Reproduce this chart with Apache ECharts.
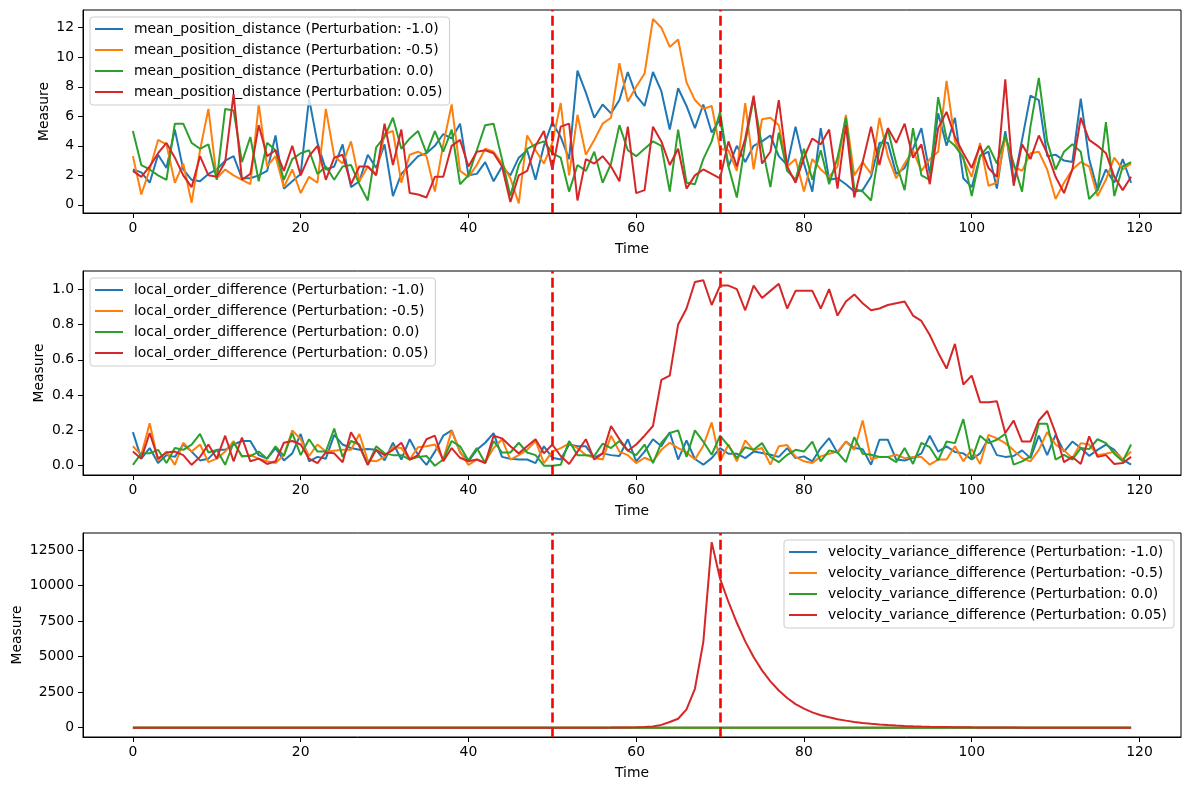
<!DOCTYPE html>
<html>
<head>
<meta charset="utf-8">
<script src="https://cdn.jsdelivr.net/npm/echarts@6/dist/echarts.min.js"></script>
<style>
  html, body { margin: 0; padding: 0; background: #fff; }
  #chart { width: 1189px; height: 790px; }
</style>
</head>
<body>
<div id="chart"></div>
<script>
// time steps 0..119
var time = [];
for (var i = 0; i < 120; i++) time.push(i);

var xTicks = [0, 20, 40, 60, 80, 100, 120];
var yTicks1 = [0, 2, 4, 6, 8, 10, 12];
var yTicks2 = [0, 0.2, 0.4, 0.6, 0.8, 1.0];
var yTicks3 = [0, 2500, 5000, 7500, 10000, 12500];
var perturbations = ['-1.0', '-0.5', '0.0', '0.05'];
var perturbStart = 50, perturbEnd = 70;

// mean_position_distance
var mpdNeg10 = [
	2.4, 2.2, 1.5, 3.4, 2.5, 5.1, 2.4, 1.7, 1.6, 2.1,
	2.4, 3.0, 3.3, 1.8, 1.8, 2.0, 2.3, 4.7, 1.1, 1.6,
	2.1, 7.2, 4.2, 2.4, 2.6, 4.1, 1.2, 1.6, 3.4, 2.5,
	4.1, 0.6, 2.1, 2.7, 3.3, 3.5, 4.0, 4.8, 4.5, 5.5,
	2.0, 2.1, 2.9, 1.6, 2.6, 2.0, 3.2, 3.7, 1.7, 4.0,
	5.6, 4.6, 3.1, 9.1, 7.6, 5.9, 6.8, 6.2, 7.1, 9.0,
	7.4, 6.7, 9.0, 7.7, 5.1, 7.9, 6.7, 5.2, 6.8, 4.9,
	5.8, 2.6, 4.0, 2.9, 4.0, 4.3, 4.7, 3.3, 2.7, 5.3,
	2.8, 0.9, 5.2, 1.7, 1.8, 1.4, 0.9, 1.0, 1.9, 4.2,
	4.2, 2.1, 2.5, 3.8, 5.2, 2.1, 6.2, 4.0, 5.9, 1.8,
	1.2, 3.3, 3.6, 1.1, 5.0, 1.5, 4.4, 7.4, 7.1, 3.3,
	3.4, 3.0, 2.9, 7.2, 3.1, 1.0, 2.4, 1.5, 3.1, 1.5
];
var mpdNeg05 = [
	3.3, 0.7, 2.4, 4.4, 4.1, 1.5, 2.8, 0.15, 3.7, 6.5,
	1.8, 2.4, 2.0, 1.7, 1.4, 6.8, 2.6, 3.3, 1.2, 2.4,
	0.8, 1.9, 1.5, 6.5, 3.3, 2.8, 4.3, 1.6, 2.6, 2.1,
	4.8, 5.0, 1.5, 3.4, 3.6, 3.3, 0.9, 4.1, 6.8, 2.3,
	1.9, 2.7, 3.8, 3.6, 2.8, 1.8, 0.1, 4.7, 3.7, 2.8,
	4.2, 6.9, 2.0, 6.1, 3.4, 4.4, 5.5, 5.9, 9.6, 7.0,
	8.0, 8.9, 12.6, 12.0, 10.7, 11.2, 8.3, 7.1, 6.5, 6.7,
	3.8, 3.7, 2.3, 6.9, 2.4, 5.8, 5.9, 5.4, 2.6, 3.1,
	0.9, 3.1, 2.4, 1.9, 2.6, 6.1, 2.0, 2.9, 2.1, 5.9,
	3.3, 1.8, 2.8, 3.7, 2.3, 3.1, 3.6, 8.4, 4.3, 3.1,
	1.9, 4.2, 1.3, 1.5, 4.6, 2.6, 2.3, 3.5, 3.6, 2.4,
	0.4, 1.5, 2.4, 2.9, 2.6, 0.6, 1.7, 3.2, 2.4, 2.8
];
var mpd00 = [
	5.0, 2.7, 2.4, 2.0, 1.7, 5.5, 5.5, 4.2, 3.8, 4.1,
	1.7, 6.5, 6.4, 2.9, 4.6, 1.6, 4.2, 3.7, 1.7, 3.1,
	3.5, 3.7, 2.1, 2.6, 1.7, 2.6, 2.7, 1.4, 0.3, 3.9,
	4.6, 5.9, 3.8, 4.5, 5.0, 3.5, 5.0, 3.6, 5.1, 1.4,
	2.0, 3.7, 5.4, 5.5, 3.1, 0.6, 2.7, 3.8, 4.1, 4.3,
	3.5, 3.2, 0.9, 2.7, 2.3, 3.6, 1.5, 2.8, 5.4, 3.7,
	3.3, 3.8, 4.3, 4.0, 0.9, 5.1, 1.5, 1.4, 3.1, 4.3,
	6.3, 2.6, 0.5, 4.2, 7.2, 4.0, 1.2, 4.9, 2.3, 1.7,
	3.8, 1.7, 3.7, 1.4, 3.2, 5.9, 1.1, 0.9, 0.3, 3.8,
	5.1, 2.8, 1.0, 5.2, 2.0, 1.7, 7.3, 4.5, 4.0, 3.2,
	0.6, 3.3, 4.0, 2.8, 4.7, 2.8, 0.9, 5.3, 8.6, 4.3,
	2.4, 3.6, 4.1, 3.6, 0.4, 1.0, 5.6, 0.6, 2.6, 2.9
];
var mpd005 = [
	2.3, 1.9, 2.6, 3.5, 4.2, 3.2, 2.0, 1.2, 3.3, 2.0,
	1.9, 2.9, 7.5, 1.7, 2.1, 5.4, 3.3, 3.7, 2.3, 4.0,
	2.0, 3.3, 4.0, 1.7, 3.2, 3.4, 1.4, 2.6, 2.6, 2.0,
	5.5, 2.7, 5.1, 0.8, 0.7, 0.5, 1.9, 1.9, 4.0, 4.4,
	2.6, 3.6, 3.7, 3.5, 2.6, 0.2, 2.0, 2.3, 4.0, 5.0,
	2.4, 5.3, 5.5, 0.3, 3.1, 2.8, 3.3, 2.6, 1.6, 5.3,
	0.8, 1.0, 5.3, 4.3, 2.7, 3.8, 1.1, 2.0, 2.4, 2.1,
	1.8, 4.3, 2.6, 4.5, 7.4, 2.8, 3.6, 7.1, 2.6, 1.5,
	3.2, 4.5, 4.1, 5.1, 1.1, 5.4, 0.5, 2.9, 5.3, 2.7,
	5.2, 4.2, 5.5, 3.2, 4.1, 1.4, 5.2, 6.3, 4.6, 3.5,
	2.5, 4.0, 2.5, 1.9, 8.5, 1.3, 4.1, 3.1, 4.7, 3.5,
	1.9, 0.8, 2.4, 5.9, 4.4, 4.0, 3.5, 1.9, 1.0, 1.9
];

// local_order_difference
var lodNeg10 = [
	0.19, 0.04, 0.10, 0.015, 0.06, 0.05, 0.12, 0.08, 0.03, 0.04,
	0.09, 0.09, 0.12, 0.14, 0.14, 0.06, 0.04, 0.10, 0.03, 0.07,
	0.18, 0.025, 0.05, 0.04, 0.175, 0.12, 0.10, 0.09, 0.095, 0.09,
	0.03, 0.13, 0.035, 0.15, 0.06, 0.005, 0.08, 0.17, 0.20, 0.075,
	0.025, 0.09, 0.13, 0.185, 0.05, 0.04, 0.035, 0.035, 0.015, 0.11,
	0.045, 0.035, 0.12, 0.11, 0.11, 0.045, 0.07, 0.06, 0.055, 0.15,
	0.025, 0.08, 0.15, 0.11, 0.19, 0.035, 0.143, 0.038, 0.006, 0.043,
	0.10, 0.068, 0.068, 0.043, 0.08, 0.072, 0.062, 0.05, 0.10, 0.043,
	0.053, 0.025, 0.10, 0.156, 0.072, 0.137, 0.10, 0.094, 0.006, 0.147,
	0.147, 0.035, 0.03, 0.045, 0.07, 0.17, 0.08, 0.11, 0.078, 0.07,
	0.035, 0.07, 0.155, 0.06, 0.05, 0.055, 0.087, 0.043, 0.17, 0.06,
	0.175, 0.08, 0.137, 0.10, 0.056, 0.09, 0.12, 0.09, 0.035, 0.006
];
var lodNeg05 = [
	0.11, 0.06, 0.24, 0.03, 0.08, 0.005, 0.13, 0.08, 0.12, 0.02,
	0.04, 0.08, 0.14, 0.05, 0.06, 0.04, 0.025, 0.015, 0.06, 0.20,
	0.15, 0.055, 0.12, 0.08, 0.085, 0.09, 0.09, 0.18, 0.03, 0.025,
	0.05, 0.105, 0.10, 0.035, 0.105, 0.11, 0.12, 0.035, 0.20, 0.08,
	0.005, 0.035, 0.02, 0.10, 0.15, 0.035, 0.06, 0.09, 0.14, 0.015,
	0.08, 0.10, 0.125, 0.10, 0.06, 0.045, 0.035, 0.17, 0.08, 0.06,
	0.015, 0.045, 0.025, 0.09, 0.13, 0.10, 0.075, 0.035, 0.113, 0.245,
	0.025, 0.12, 0.025, 0.143, 0.087, 0.10, 0.006, 0.11, 0.117, 0.05,
	0.025, 0.015, 0.053, 0.068, 0.08, 0.137, 0.09, 0.256, 0.035, 0.05,
	0.05, 0.062, 0.043, 0.05, 0.05, 0.006, 0.035, 0.035, 0.11, 0.025,
	0.094, 0.01, 0.175, 0.155, 0.128, 0.087, 0.043, 0.025, 0.09, 0.19,
	0.12, 0.087, 0.043, 0.128, 0.12, 0.06, 0.068, 0.08, 0.035, 0.08
];
var lod00 = [
	0.005, 0.07, 0.07, 0.09, 0.015, 0.10, 0.09, 0.12, 0.18, 0.075,
	0.09, 0.005, 0.13, 0.055, 0.055, 0.08, 0.04, 0.11, 0.055, 0.185,
	0.06, 0.15, 0.08, 0.08, 0.21, 0.05, 0.14, 0.12, 0.005, 0.11,
	0.07, 0.06, 0.06, 0.035, 0.05, 0.055, 0.0, 0.035, 0.14, 0.11,
	0.03, 0.10, 0.015, 0.14, 0.075, 0.075, 0.13, 0.075, 0.06, 0.0,
	0.0, 0.005, 0.14, 0.06, 0.06, 0.055, 0.125, 0.10, 0.14, 0.085,
	0.06, 0.12, 0.015, 0.13, 0.185, 0.20, 0.05, 0.20, 0.137, 0.062,
	0.17, 0.113, 0.043, 0.105, 0.09, 0.128, 0.05, 0.02, 0.062, 0.09,
	0.08, 0.137, 0.025, 0.087, 0.075, 0.02, 0.162, 0.068, 0.062, 0.05,
	0.05, 0.02, 0.10, 0.01, 0.13, 0.105, 0.03, 0.137, 0.128, 0.264,
	0.035, 0.17, 0.128, 0.147, 0.18, 0.006, 0.025, 0.053, 0.237, 0.237,
	0.035, 0.062, 0.035, 0.10, 0.094, 0.15, 0.128, 0.068, 0.025, 0.12
];
var lod005 = [
	0.08, 0.04, 0.185, 0.04, 0.075, 0.08, 0.06, 0.005, 0.05, 0.12,
	0.04, 0.17, 0.025, 0.16, 0.025, 0.04, 0.01, 0.025, 0.13, 0.14,
	0.12, 0.04, 0.015, 0.075, 0.07, 0.02, 0.19, 0.11, 0.005, 0.09,
	0.06, 0.09, 0.13, 0.035, 0.06, 0.15, 0.17, 0.025, 0.10, 0.045,
	0.025, 0.035, 0.015, 0.17, 0.155, 0.11, 0.07, 0.11, 0.15, 0.07,
	0.12, 0.055, 0.01, 0.08, 0.15, 0.035, 0.07, 0.225, 0.15, 0.085,
	0.12, 0.17, 0.225, 0.486, 0.51, 0.80, 0.89, 1.04, 1.05, 0.91,
	1.02, 1.02, 1.0, 0.88, 1.02, 0.95, 0.99, 1.03, 0.89, 0.99,
	0.99, 0.99, 0.89, 1.0, 0.85, 0.93, 0.97, 0.92, 0.88, 0.89,
	0.91, 0.92, 0.93, 0.85, 0.82, 0.74, 0.64, 0.55, 0.69, 0.46,
	0.51, 0.36, 0.36, 0.365, 0.185, 0.256, 0.137, 0.137, 0.256, 0.31,
	0.185, 0.02, 0.05, 0.01, 0.166, 0.05, 0.06, 0.01, 0.015, 0.05
];

// velocity_variance_difference
var vvdNeg10 = [
	0, 0, 0, 0, 0, 0, 0, 0, 0, 0,  0, 0, 0, 0, 0, 0, 0, 0, 0, 0,
	0, 0, 0, 0, 0, 0, 0, 0, 0, 0,  0, 0, 0, 0, 0, 0, 0, 0, 0, 0,
	0, 0, 0, 0, 0, 0, 0, 0, 0, 0,  0, 0, 0, 0, 0, 0, 0, 0, 0, 0,
	0, 0, 0, 0, 0, 0, 0, 0, 0, 0,  0, 0, 0, 0, 0, 0, 0, 0, 0, 0,
	0, 0, 0, 0, 0, 0, 0, 0, 0, 0,  0, 0, 0, 0, 0, 0, 0, 0, 0, 0,
	0, 0, 0, 0, 0, 0, 0, 0, 0, 0,  0, 0, 0, 0, 0, 0, 0, 0, 0, 0
];
var vvdNeg05 = [
	0, 0, 0, 0, 0, 0, 0, 0, 0, 0,  0, 0, 0, 0, 0, 0, 0, 0, 0, 0,
	0, 0, 0, 0, 0, 0, 0, 0, 0, 0,  0, 0, 0, 0, 0, 0, 0, 0, 0, 0,
	0, 0, 0, 0, 0, 0, 0, 0, 0, 0,  0, 0, 0, 0, 0, 0, 0, 0, 0, 0,
	0, 0, 0, 0, 0, 0, 0, 0, 0, 0,  0, 0, 0, 0, 0, 0, 0, 0, 0, 0,
	0, 0, 0, 0, 0, 0, 0, 0, 0, 0,  0, 0, 0, 0, 0, 0, 0, 0, 0, 0,
	0, 0, 0, 0, 0, 0, 0, 0, 0, 0,  0, 0, 0, 0, 0, 0, 0, 0, 0, 0
];
var vvd00 = [
	0, 0, 0, 0, 0, 0, 0, 0, 0, 0,  0, 0, 0, 0, 0, 0, 0, 0, 0, 0,
	0, 0, 0, 0, 0, 0, 0, 0, 0, 0,  0, 0, 0, 0, 0, 0, 0, 0, 0, 0,
	0, 0, 0, 0, 0, 0, 0, 0, 0, 0,  0, 0, 0, 0, 0, 0, 0, 0, 0, 0,
	0, 0, 0, 0, 0, 0, 0, 0, 0, 0,  0, 0, 0, 0, 0, 0, 0, 0, 0, 0,
	0, 0, 0, 0, 0, 0, 0, 0, 0, 0,  0, 0, 0, 0, 0, 0, 0, 0, 0, 0,
	0, 0, 0, 0, 0, 0, 0, 0, 0, 0,  0, 0, 0, 0, 0, 0, 0, 0, 0, 0
];
var vvd005 = [
	0, 0, 0, 0, 0, 0, 0, 0, 0, 0,
	0, 0, 0, 0, 0, 0, 0, 0, 0, 0,
	0, 0, 0, 0, 0, 0, 0, 0, 0, 0,
	0, 0, 0, 0, 0, 0, 0, 0, 0, 0,
	0, 0, 0, 0, 0, 0, 0, 0, 0, 0,
	0, 0, 1, 2, 3, 5, 7, 10, 14, 19,
	25, 50, 90, 200, 400, 630, 1290, 2740, 6020, 13050,
	10480, 8840, 7380, 6070, 4970, 4030, 3260, 2620, 2090, 1660,
	1340, 1080, 880, 730, 600, 500, 410, 340, 280, 230,
	190, 155, 128, 105, 86, 70, 57, 47, 38, 31,
	25, 20, 16, 13, 10, 8, 6.5, 5, 4, 3.2,
	2.5, 2, 1.6, 1.3, 1, 0.8, 0.6, 0.5, 0.4, 0.3
];

var colors = ['#1f77b4', '#ff7f0e', '#2ca02c', '#d62728'];
var FONT = 'DejaVu Sans';
var FS = 13.9;

function pairs(vals) {
	var out = [];
	for (var i = 0; i < vals.length; i++) out.push([time[i], vals[i]]);
	return out;
}

function makeXAxis(gi) {
	return {
		type: 'value', gridIndex: gi, min: -5.95, max: 124.95,
		name: 'Time', nameLocation: 'middle', nameGap: 29, nameMoveOverlap: false,
		nameTextStyle: { color: '#000', fontSize: FS, fontFamily: FONT },
		axisLine: { show: true, onZero: false, lineStyle: { color: '#000', width: 1 } },
		axisTick: { show: true, length: 5, customValues: xTicks, lineStyle: { color: '#000', width: 1 } },
		axisLabel: { customValues: xTicks, margin: 8, color: '#000', fontSize: FS, fontFamily: FONT },
		splitLine: { show: false }
	};
}

function makeYAxis(gi, min, max, ticks, gap, fmt) {
	return {
		type: 'value', gridIndex: gi, min: min, max: max,
		name: 'Measure', nameLocation: 'middle', nameGap: gap, nameMoveOverlap: false,
		nameTextStyle: { color: '#000', fontSize: FS, fontFamily: FONT },
		axisLine: { show: true, onZero: false, lineStyle: { color: '#000', width: 1 } },
		axisTick: { show: true, length: 5, customValues: ticks, lineStyle: { color: '#000', width: 1 } },
		axisLabel: { customValues: ticks, margin: 9, color: '#000', fontSize: FS, fontFamily: FONT, formatter: fmt },
		splitLine: { show: false }
	};
}

function makeSeries(gi, metric, arrays) {
	var list = [];
	for (var k = 0; k < arrays.length; k++) {
		var s = {
			name: metric + ' (Perturbation: ' + perturbations[k] + ')',
			type: 'line', xAxisIndex: gi, yAxisIndex: gi,
			data: pairs(arrays[k]),
			symbol: 'none', smooth: false,
			lineStyle: { color: colors[k], width: 2 },
			itemStyle: { color: colors[k] },
			z: 2 + k
		};
		if (k === arrays.length - 1) {
			s.markLine = {
				silent: true, symbol: 'none', animation: false,
				label: { show: false },
				lineStyle: { color: '#ff0000', width: 2.6, type: [10, 4.4], opacity: 1 },
				data: [{ xAxis: perturbStart }, { xAxis: perturbEnd }]
			};
		}
		list.push(s);
	}
	return list;
}

function legendNames(metric) {
	return perturbations.map(function(p) { return metric + ' (Perturbation: ' + p + ')'; });
}

function makeLegend(metric, pos) {
	var lg = {
		data: legendNames(metric),
		orient: 'vertical',
		icon: 'rect',
		itemWidth: 28, itemHeight: 2, itemGap: 7,
		padding: [5, 7, 6, 5],
		backgroundColor: 'rgba(255,255,255,0.8)',
		borderColor: '#cccccc', borderWidth: 1, borderRadius: 3,
		textStyle: { color: '#000', fontSize: FS, fontFamily: FONT, lineHeight: 14, padding: [0, 0, 0, 6] },
		selectedMode: false
	};
	for (var key in pos) lg[key] = pos[key];
	return lg;
}

var gridBase = {
	left: 83, right: 8, show: true, borderColor: '#000', borderWidth: 1,
	backgroundColor: 'transparent', containLabel: false, outerBoundsMode: 'none'
};

var myChart = echarts.init(document.getElementById('chart'), null, { renderer: 'canvas' });
var option = {
	animation: false,
	backgroundColor: '#fff',
	textStyle: { fontFamily: FONT },
	grid: [
		Object.assign({}, gridBase, { top: 10, height: 203 }),
		Object.assign({}, gridBase, { top: 271, height: 204 }),
		Object.assign({}, gridBase, { top: 533, height: 204 })
	],
	xAxis: [makeXAxis(0), makeXAxis(1), makeXAxis(2)],
	yAxis: [
		makeYAxis(0, -0.55, 13.2, yTicks1, 32, function(v) { return String(v); }),
		makeYAxis(1, -0.0525, 1.1025, yTicks2, 37, function(v) { return v.toFixed(1); }),
		makeYAxis(2, -652, 13690, yTicks3, 59, function(v) { return String(v); })
	],
	legend: [
		makeLegend('mean_position_distance', { left: 90, top: 17 }),
		makeLegend('local_order_difference', { left: 90, top: 278 }),
		makeLegend('velocity_variance_difference', { right: 15, top: 540 })
	],
	series: []
		.concat(makeSeries(0, 'mean_position_distance', [mpdNeg10, mpdNeg05, mpd00, mpd005]))
		.concat(makeSeries(1, 'local_order_difference', [lodNeg10, lodNeg05, lod00, lod005]))
		.concat(makeSeries(2, 'velocity_variance_difference', [vvdNeg10, vvdNeg05, vvd00, vvd005]))
};
myChart.setOption(option);
</script>
</body>
</html>
